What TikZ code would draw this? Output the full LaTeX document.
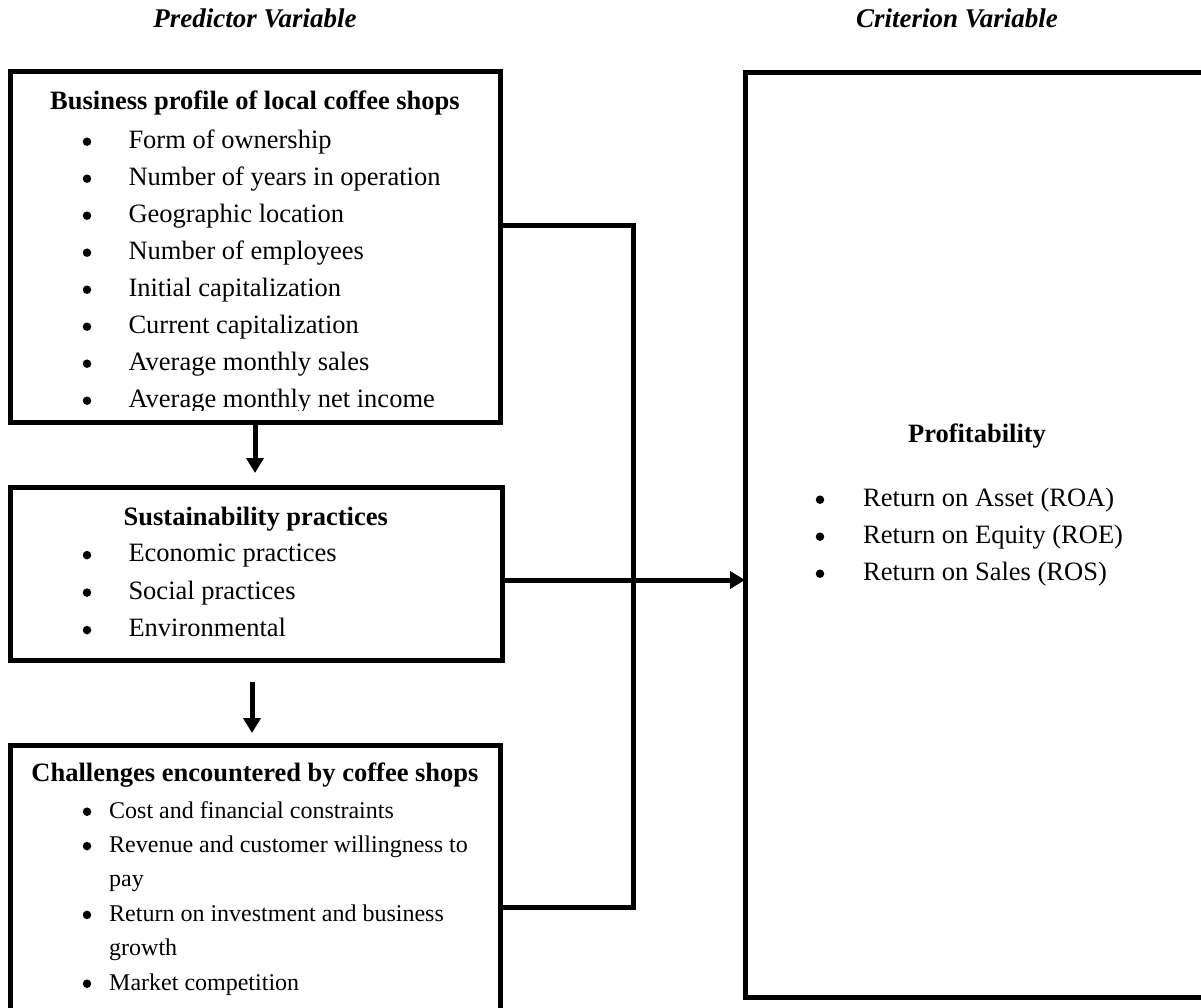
\documentclass[tikz,border=0pt]{standalone}
\usepackage{fontspec}
\setmainfont{Liberation Serif}
\usetikzlibrary{arrows.meta}
\begin{document}
\begin{tikzpicture}[x=1pt,y=-1pt,
  box/.style={draw, line width=5pt, rectangle, inner sep=0pt, outer sep=0pt, anchor=north west},
  conn/.style={line width=5pt},
  arr/.style={line width=5pt, -{Triangle[length=15pt,width=17pt]}},
  hdr/.style={font=\fontsize{27}{30}\selectfont\bfseries\itshape, anchor=base, inner sep=0pt},
  ttl/.style={font=\fontsize{26.5}{30}\selectfont\bfseries, anchor=base, inner sep=0pt},
  itm/.style={font=\fontsize{26.5}{30}\selectfont, anchor=base west, inner sep=0pt},
  itms/.style={font=\fontsize{24}{28}\selectfont, anchor=base west, inner sep=0pt},
  bul/.style={circle, fill, inner sep=0pt, minimum size=8.5pt},
]
\useasboundingbox (0,0) rectangle (1201,1008);
\clip (0,0) rectangle (1201,1008);

% headers
\node[hdr] (hpred) at (255,28) {Predictor Variable};
\node[hdr] (hcrit) at (957,28) {Criterion Variable};

% boxes
\node[box, minimum width=490pt, minimum height=350pt] (biz) at (10,72) {};
\node[box, minimum width=492pt, minimum height=173pt] (sust) at (10,487) {};
\node[box, minimum width=490pt, minimum height=270pt] (chal) at (10,745) {};
\node[box, minimum width=480pt, minimum height=924pt] (prof) at (745,73) {};

% business profile text
\begin{scope}
\clip (10,72) rectangle (500,410);
\node[ttl] (bizt) at (255,110) {Business profile of local coffee shops};
\foreach \t [count=\i] in {Form of ownership, Number of years in operation, Geographic location, Number of employees, Initial capitalization, Current capitalization, Average monthly sales, Average monthly net income}{
  \pgfmathsetmacro{\yy}{148.3+37*(\i-1)}
  \node[bul] (bizb\i) at (87,\yy-6.6) {};
  \node[itm] (bizi\i) at (128.3,\yy) {\t};
}
\end{scope}

% sustainability text
\node[ttl] (sustt) at (255.8,525) {Sustainability practices};
\foreach \t [count=\i] in {Economic practices, Social practices, Environmental}{
  \pgfmathsetmacro{\yy}{561.7+37.5*(\i-1)}
  \node[bul] (sustb\i) at (87,\yy-6.6) {};
  \node[itm] (susti\i) at (128.3,\yy) {\t};
}

% challenges text
\node[ttl] (chalt) at (255,781.7) {Challenges encountered by coffee shops};
\node[bul] (chalb1) at (87,818-6.3) {};
\node[itms] (chali1) at (109,818) {Cost and financial constraints};
\node[bul] (chalb2) at (87,852.4-6.3) {};
\node[itms] (chali2) at (109,852.4) {Revenue and customer willingness to};
\node[itms] (chali3) at (109,886.8) {pay};
\node[bul] (chalb4) at (87,921.2-6.3) {};
\node[itms] (chali4) at (109,921.2) {Return on investment and business};
\node[itms] (chali5) at (109,955.6) {growth};
\node[bul] (chalb6) at (87,990-6.3) {};
\node[itms] (chali6) at (109,990) {Market competition};

% profitability text
\node[ttl] (proft) at (977,442.7) {Profitability};
\foreach \t [count=\i] in {Return on Asset (ROA), Return on Equity (ROE), Return on Sales (ROS)}{
  \pgfmathsetmacro{\yy}{506.7+37*(\i-1)}
  \node[bul] (profb\i) at (820,\yy-7) {};
  \node[itm] (profi\i) at (863,\yy) {\t};
}

% connectors
\coordinate (j1) at (633,226);
\coordinate (j2) at (633,907);
\coordinate (a3) at (0,580);
\coordinate (t1) at (255,473);
\coordinate (s2) at (252,682);
\coordinate (t2) at (252,733);

\draw[conn] (biz.east |- j1) -- (j1) -- (j2) -- (chal.east |- j2);
\draw[arr] (sust.east |- a3) -- (prof.west |- a3);
\draw[arr] (biz.south -| t1) -- (t1);
\draw[arr] (s2) -- (t2);
\end{tikzpicture}
\end{document}
